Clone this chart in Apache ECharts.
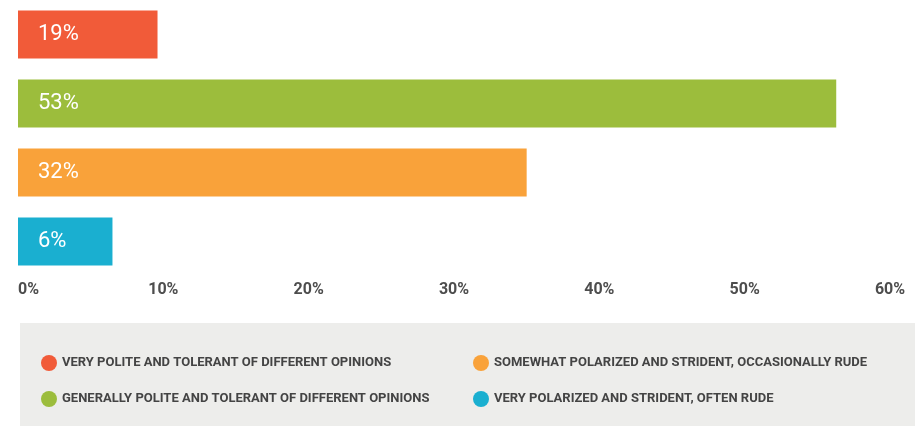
<!DOCTYPE html>
<html>
<head>
<meta charset="utf-8">
<script src="https://cdn.jsdelivr.net/npm/echarts@6/dist/echarts.min.js"></script>
<style>
  html, body { margin: 0; padding: 0; background: #fff; }
  #main { width: 920px; height: 428px; }
</style>
</head>
<body>
<div id="main"></div>
<script>
// answer groups, top to bottom
var categories = [
  'VERY POLITE AND TOLERANT OF DIFFERENT OPINIONS',
  'GENERALLY POLITE AND TOLERANT OF DIFFERENT OPINIONS',
  'SOMEWHAT POLARIZED AND STRIDENT, OCCASIONALLY RUDE',
  'VERY POLARIZED AND STRIDENT, OFTEN RUDE'
];
// printed shares (labels inside the bars)
var shares = [19, 53, 32, 6];
// bar lengths as drawn against the axis
var barLengths = [9.6, 56.3, 35.0, 6.5];
var colors = ['#f15b39', '#9cbd3c', '#f9a23a', '#1aafd0'];
var tickLabels = ['0%', '10%', '20%', '30%', '40%', '50%', '60%'];

var labelFont = 'Roboto, "Liberation Sans Narrow", sans-serif';

var myChart = echarts.init(document.getElementById('main'));

// one series per group, stacked so every bar sits on its own row
var series = categories.map(function (name, i) {
  var data = categories.map(function (c, j) { return j === i ? barLengths[i] : '-'; });
  return {
    type: 'bar',
    name: name,
    stack: 'all',
    barWidth: 48,
    data: data,
    itemStyle: { color: colors[i] },
    label: {
      show: true,
      position: 'insideLeft',
      distance: 20,
      color: '#fff',
      fontFamily: labelFont,
      fontSize: 22,
      formatter: function (p) { return shares[p.dataIndex] + '%'; }
    }
  };
});

var legendText = {
  color: '#444',
  fontFamily: labelFont,
  fontWeight: 'bold',
  fontSize: 13
};

var option = {
  animation: false,
  grid: { left: 18, right: 30, top: -2, height: 278 },
  xAxis: {
    type: 'value',
    min: 0,
    max: 60,
    interval: 10,
    axisLine: { show: false },
    axisTick: { show: false },
    splitLine: { show: false },
    axisLabel: {
      margin: 6,
      color: '#4d4d4d',
      fontFamily: labelFont,
      fontWeight: 'bold',
      fontSize: 16,
      alignMinLabel: 'left',
      formatter: function (v) { return tickLabels[v / 10]; }
    }
  },
  yAxis: {
    type: 'category',
    inverse: true,
    data: categories,
    show: false
  },
  graphic: [{
    type: 'rect',
    z: -10,
    shape: { x: 20, y: 323, width: 895, height: 103 },
    style: { fill: '#ededeb' }
  }],
  legend: [{
    orient: 'vertical',
    left: 41,
    top: 355,
    padding: 0,
    icon: 'circle',
    itemWidth: 16,
    itemHeight: 16,
    itemGap: 20,
    selectedMode: false,
    data: [categories[0], categories[1]],
    textStyle: legendText
  }, {
    orient: 'vertical',
    left: 473,
    top: 355,
    padding: 0,
    icon: 'circle',
    itemWidth: 16,
    itemHeight: 16,
    itemGap: 20,
    selectedMode: false,
    data: [categories[2], categories[3]],
    textStyle: legendText
  }],
  series: series
};

myChart.setOption(option);
</script>
</body>
</html>
